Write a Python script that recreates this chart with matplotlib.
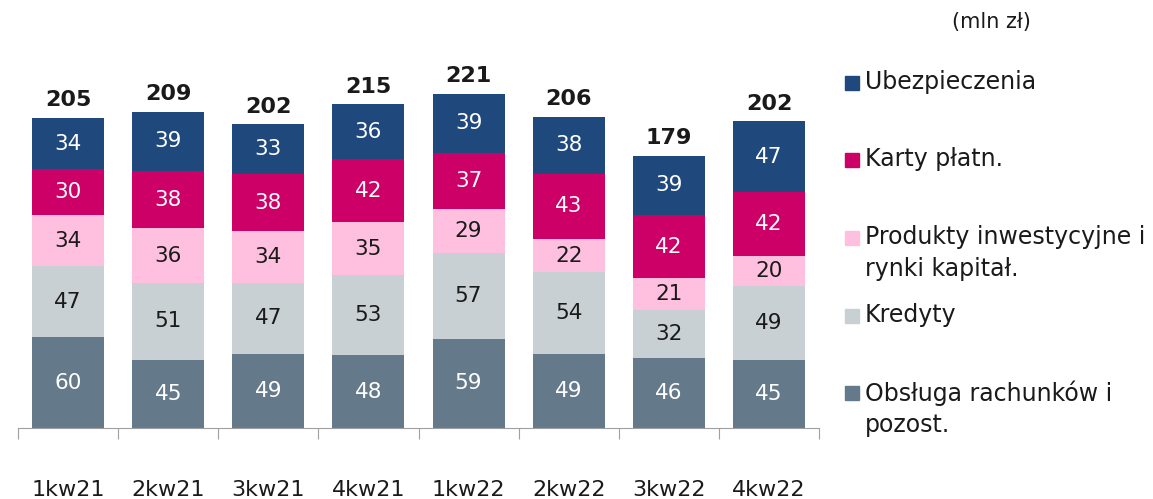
import numpy as np
import matplotlib.pyplot as plt
from matplotlib.patches import Rectangle

plt.rcParams['font.family'] = ['DejaVu Sans']

kwartaly = ['1kw21', '2kw21', '3kw21', '4kw21', '1kw22', '2kw22', '3kw22', '4kw22']
obsluga = [60, 45, 49, 48, 59, 49, 46, 45]
kredyty = [47, 51, 47, 53, 57, 54, 32, 49]
produkty = [34, 36, 34, 35, 29, 22, 21, 20]
karty = [30, 38, 38, 42, 37, 43, 42, 42]
ubezp = [34, 39, 33, 36, 39, 38, 39, 47]
sumy = [205, 209, 202, 215, 221, 206, 179, 202]

serie = [
    ('Obsługa rachunków i\npozost.', obsluga, '#647a8a', 'white'),
    ('Kredyty', kredyty, '#c8d0d4', '#1a1a1a'),
    ('Produkty inwestycyjne i\nrynki kapitał.', produkty, '#ffc0df', '#1a1a1a'),
    ('Karty płatn.', karty, '#cc0066', 'white'),
    ('Ubezpieczenia', ubezp, '#1f497d', 'white'),
]

W, H = 1153, 499
fig = plt.figure(figsize=(W / 100, H / 100), dpi=100)
ax = fig.add_axes([18 / W, (H - 428) / H, (819 - 18) / W, 378 / H])

x = np.arange(len(kwartaly))
dol = np.zeros(len(kwartaly))
for nazwa, vals, kol, kol_txt in serie:
    vals = np.array(vals, dtype=float)
    ax.bar(x, vals, 0.72, bottom=dol, color=kol, edgecolor='none')
    for xi, b, v in zip(x, dol, vals):
        ax.text(xi, b + v / 2, f'{int(v)}', ha='center', va='center',
                color=kol_txt, fontsize=15.5)
    dol += vals

for xi, top, s in zip(x, dol, sumy):
    ax.text(xi, top + 5, str(s), ha='center', va='bottom', fontsize=16,
            fontweight='bold', color='#1a1a1a')

ax.set_xlim(-0.5, len(kwartaly) - 0.5)
ax.set_ylim(0, 250)
ax.set_yticks([])
for s in ['top', 'right', 'left']:
    ax.spines[s].set_visible(False)
ax.spines['bottom'].set_color('#a0a0a0')
ax.set_xticks(np.arange(-0.5, len(kwartaly)), minor=False)
ax.set_xticklabels([])
ax.tick_params(axis='x', length=8, color='#a0a0a0', direction='out')
for xi, lab in zip(x, kwartaly):
    ax.text(xi, -41, lab, ha='center', va='center', fontsize=16, color='#1a1a1a')

# legenda po prawej
leg_y = [83, 160, 238, 316, 393]
for (nazwa, vals, kol, _), yy in zip(serie[::-1], leg_y):
    fig.patches.append(Rectangle((845 / W, (H - yy - 7) / H), 14 / W, 14 / H,
                                 transform=fig.transFigure, color=kol))
    fig.text(865 / W, (H - yy + 13) / H, nazwa, ha='left', va='top',
             fontsize=17, color='#1a1a1a', linespacing=1.4)

fig.text(991 / W, (H - 22) / H, '(mln zł)', ha='center', va='center',
         fontsize=15, color='#1a1a1a')

fig.savefig('out.png', dpi=100)
